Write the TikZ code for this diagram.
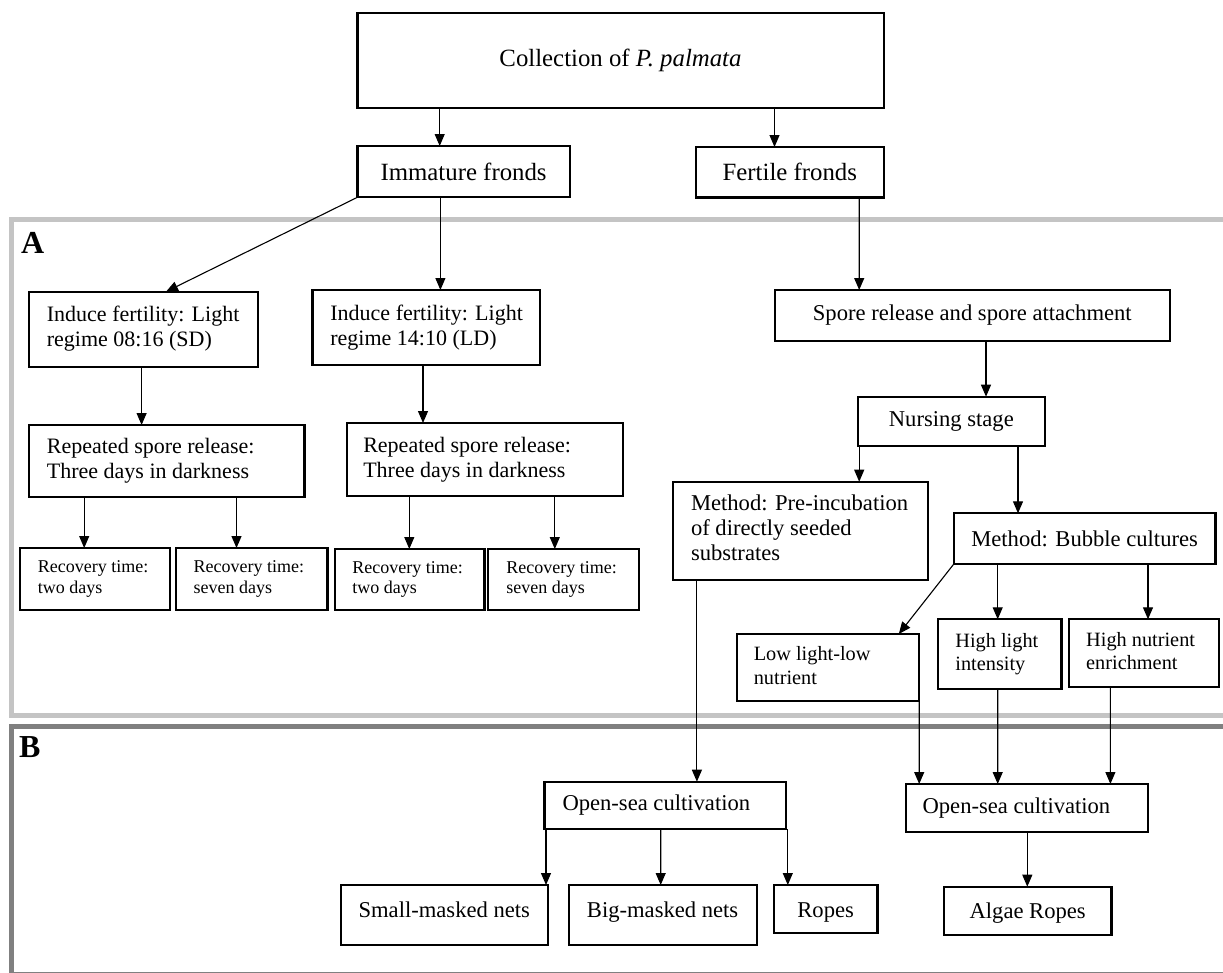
\documentclass[tikz,border=0pt]{standalone}
\usepackage{fontspec}
\setmainfont{Liberation Serif}
\usetikzlibrary{arrows.meta}
\definecolor{frameA}{HTML}{C4C4C4}
\definecolor{frameB}{HTML}{808080}
\newcommand\fsTop{\fontsize{24.8}{28}\selectfont}
\newcommand\fsMain{\fontsize{22.6}{25}\selectfont}
\newcommand\fsLeft{\fontsize{22}{25}\selectfont}
\newcommand\fsLow{\fontsize{20.3}{23.8}\selectfont}
\newcommand\fsRec{\fontsize{18}{20.5}\selectfont}
\newcommand\fsPanel{\fontsize{32}{32}\selectfont\bfseries}
\newcommand\lft[2]{\makebox[#1][l]{\begin{tabular}{@{}l@{}}#2\end{tabular}}}
\begin{document}
\begin{tikzpicture}[x=1pt,y=-1pt,
  bx/.style={draw, line width=2.2pt, inner sep=0pt, outer sep=0pt, anchor=north west, font=\fsMain},
  arr/.style={line width=1.1pt, -{Triangle[width=10pt,length=12pt]}},
  frameline/.style={line width=5pt}]
\useasboundingbox (0,0) rectangle (1223,972);
% panel frames
\draw[frameline, frameA] (11,219.5) rectangle (1240,715.5);
\draw[frameline, frameB] (11,726) rectangle (1240,974.5);
\node[anchor=base west, font=\fsPanel, inner sep=0pt] (labA) at (21,253) {A};
\node[anchor=base west, font=\fsPanel, inner sep=0pt] (labB) at (19,757) {B};

% top
\node[bx, font=\fsTop, minimum width=526.2, minimum height=95.6] (coll) at (357.4,12.7) {Collection of \textit{P. palmata}};
\node[bx, font=\fsTop, minimum width=212.4, minimum height=51.3] (imm) at (357.4,146) {Immature fronds};
\node[bx, font=\fsTop, minimum width=187.6, minimum height=50.5] (fert) at (696,147) {Fertile fronds};

% panel A left
\node[bx, font=\fsLeft, minimum width=228.9, minimum height=75] (sd) at (28.9,291.7) {\lft{192.9pt}{Induce fertility: Light\\regime 08:16 (SD)}};
\node[bx, font=\fsLeft, minimum width=227.3, minimum height=75] (ld) at (312.4,290) {\lft{191.3pt}{Induce fertility: Light\\regime 14:10 (LD)}};
\node[bx, font=\fsLeft, minimum width=275.6, minimum height=71.7] (rep1) at (28.9,425) {\lft{239.6pt}{Repeated spore release:\\Three days in darkness}};
\node[bx, font=\fsLeft, minimum width=276.6, minimum height=73] (rep2) at (346.7,423) {\lft{243.4pt}{Repeated spore release:\\Three days in darkness}};
\node[bx, font=\fsRec, minimum width=150.2, minimum height=62] (r1) at (19.8,548) {\lft{114.2pt}{Recovery time:\\two days}};
\node[bx, font=\fsRec, minimum width=151.4, minimum height=62] (r2) at (176,548) {\lft{116pt}{Recovery time:\\seven days}};
\node[bx, font=\fsRec, minimum width=149.1, minimum height=61] (r3) at (335.3,549) {\lft{115.1pt}{Recovery time:\\two days}};
\node[bx, font=\fsRec, minimum width=151, minimum height=61] (r4) at (488.3,549) {\lft{115pt}{Recovery time:\\seven days}};

% panel A right
\node[bx, minimum width=395.4, minimum height=50.7] (spore) at (774.6,290) {Spore release and spore attachment};
\node[bx, minimum width=187.3, minimum height=49.3] (nurs) at (857.7,396.7) {Nursing stage};
\node[bx, minimum width=254.7, minimum height=98.3] (pre) at (673,481.7) {\lft{218.7pt}{Method: Pre-incubation\\of directly seeded\\substrates}};
\node[bx, minimum width=261.6, minimum height=50.7] (bub) at (953.8,513.3) {Method: Bubble cultures};
\node[bx, font=\fsLow, minimum width=181.9, minimum height=66.7] (low) at (737.3,634) {\lft{148.9pt}{Low light-low\\nutrient}};
\node[bx, font=\fsLow, minimum width=123.8, minimum height=69.7] (hl) at (937.7,619.3) {\lft{88.4pt}{High light\\intensity}};
\node[bx, font=\fsLow, minimum width=150, minimum height=68] (hn) at (1069.2,619.3) {\lft{116pt}{High nutrient\\enrichment}};

% panel B
\node[bx, minimum width=241.8, minimum height=47.3] (os1) at (544.5,781.7) {\lft{205.8pt}{Open-sea cultivation}};
\node[bx, minimum width=242.6, minimum height=48.3] (os2) at (905.6,784) {\lft{208.6pt}{Open-sea cultivation}};
\node[bx, minimum width=206.7, text height=32pt, text depth=28pt] (small) at (340.9,885) {Small-masked nets};
\node[bx, minimum width=188, text height=32pt, text depth=28pt] (big) at (568.6,885) {Big-masked nets};
\node[bx, minimum width=103.7, text height=32pt, text depth=16.3pt] (ropes) at (773.8,885) {Ropes};
\node[bx, minimum width=167.7, text height=31.3pt, text depth=17pt] (algae) at (943.8,886.7) {Algae Ropes};

% connectors
\draw[arr] ([xshift=82.3]coll.south west) -- ([xshift=82.3]imm.north west);
\draw[arr] ([xshift=417.1]coll.south west) -- ([xshift=78.5]fert.north west);
\draw[arr] (imm.south west) -- ([xshift=137.1]sd.north west);
\draw[arr] ([xshift=83]imm.south west) -- ([xshift=128]ld.north west);
\draw[arr] ([xshift=163.2]fert.south west) -- ([xshift=84.6]spore.north west);
\draw[arr] ([xshift=112.7]sd.south west) -- ([xshift=112.7]rep1.north west);
\draw[arr] ([xshift=110.6]ld.south west) -- ([xshift=76.3]rep2.north west);
\draw[arr] ([xshift=55.3]rep1.south west) -- ([xshift=64.4]r1.north west);
\draw[arr] ([xshift=207.6]rep1.south west) -- ([xshift=60.5]r2.north west);
\draw[arr] ([xshift=62.6]rep2.south west) -- ([xshift=74]r3.north west);
\draw[arr] ([xshift=208.1]rep2.south west) -- ([xshift=66.5]r4.north west);
\draw[arr] ([xshift=211.4]spore.south west) -- ([xshift=128.3]nurs.north west);
\draw[arr] ([xshift=1.5]nurs.south west) -- ([xshift=186.2]pre.north west);
\draw[arr] ([xshift=160.3]nurs.south west) -- ([xshift=64.2]bub.north west);
\draw[arr] (bub.south west) -- ([xshift=161.5]low.north west);
\draw[arr] ([xshift=43.9]bub.south west) -- ([xshift=60]hl.north west);
\draw[arr] ([xshift=194.2]bub.south west) -- ([xshift=78.8]hn.north west);
\draw[arr] ([xshift=23.9]pre.south west) -- ([xshift=152.4]os1.north west);
\draw[arr] (low.south east) -- ([xshift=13.6]os2.north west);
\draw[arr] ([xshift=60]hl.south west) -- ([xshift=92.1]os2.north west);
\draw[arr] ([xshift=41.2]hn.south west) -- ([xshift=204.8]os2.north west);
\draw[arr] ([xshift=1.5]os1.south west) -- ([xshift=205.1]small.north west);
\draw[arr] ([xshift=116.2]os1.south west) -- ([xshift=92.1]big.north west);
\draw[arr] ([xshift=243.3]os1.south west) -- ([xshift=14]ropes.north west);
\draw[arr] ([xshift=121.7]os2.south west) -- ([xshift=83.5]algae.north west);
\end{tikzpicture}
\end{document}
